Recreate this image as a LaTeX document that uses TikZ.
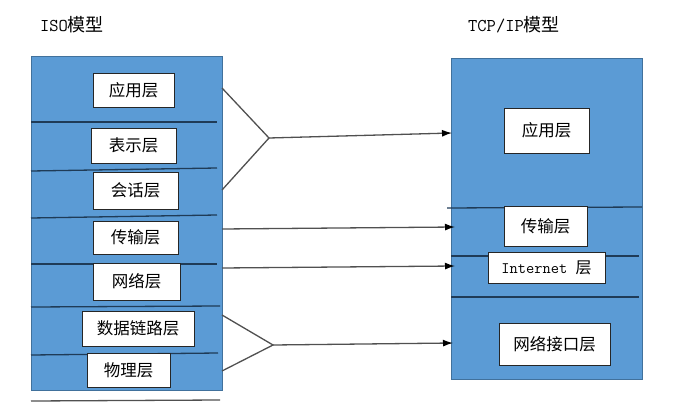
\documentclass[tikz,border=0pt]{standalone}
\usepackage{fontspec}
\newfontfamily\cjk{Noto Sans CJK SC}
\usetikzlibrary{arrows.meta}
\definecolor{layerblue}{HTML}{5B9BD5}
\definecolor{layeredge}{HTML}{41719C}
\definecolor{sepline}{HTML}{1F3B57}
\definecolor{linkgray}{HTML}{505050}
\tikzset{
    model/.style={draw=layeredge, fill=layerblue, line width=1pt, inner sep=0pt},
    layer/.style={draw=black!85, fill=white, line width=1pt, inner sep=0pt, font=\cjk\fontsize{16.5}{16.5}\selectfont},
    sep/.style={draw=sepline, line width=1.3pt},
    link/.style={draw=linkgray, line width=1.3pt},
    title/.style={font=\fontsize{18}{18}\selectfont}
}
\begin{document}
\begin{tikzpicture}[x=1pt,y=-1pt]
        \useasboundingbox (0,0) rectangle (677,412);

        \node[title] (isotitle) at (72,25) {\ttfamily ISO\cjk 模型};
        \node[title] (tcptitle) at (514,25) {\ttfamily TCP/IP\cjk 模型};

        \node[model, minimum width=191pt, minimum height=333pt] (iso) at (126.5,223.5) {};
        \node[model, minimum width=191pt, minimum height=320pt] (tcp) at (546.5,219) {};

        \draw[sep] (31,122) -- (217,122);
        \draw[sep] (31,171) -- (217,168);
        \draw[sep] (31,218) -- (217,215);
        \draw[sep] (31,264) -- (217,264);
        \draw[sep] (31,307) -- (220,306);
        \draw[sep] (31,355) -- (218,353);

        \draw[sep] (447,208) -- (642,207);
        \draw[sep] (451,256) -- (639,256);
        \draw[sep] (451,297) -- (639,297);

        \draw[link] (31,401) -- (220,400);

        \node[layer, minimum width=81pt, minimum height=34pt] (isoapp) at (133.5,90) {应用层};
        \node[layer, minimum width=85pt, minimum height=35pt] (isopres) at (133.5,145.5) {表示层};
        \node[layer, minimum width=85pt, minimum height=37pt] (isosess) at (135.5,190.5) {会话层};
        \node[layer, minimum width=85pt, minimum height=33pt] (isotrans) at (135.5,237.5) {传输层};
        \node[layer, minimum width=87pt, minimum height=37pt] (isonet) at (136.5,281.5) {网络层};
        \node[layer, minimum width=112pt, minimum height=35pt] (isolink) at (138,328.5) {数据链路层};
        \node[layer, minimum width=83pt, minimum height=34pt] (isophys) at (128.5,370) {物理层};

        \node[layer, minimum width=85pt, minimum height=45pt] (tcpapp) at (546.5,130.5) {应用层};
        \node[layer, minimum width=83pt, minimum height=40pt] (tcptrans) at (545.5,226) {传输层};
        \node[layer, minimum width=117pt, minimum height=31pt, font=\fontsize{16}{16}\selectfont] (tcpinet) at (546.5,267.5) {\ttfamily Internet \cjk 层};
        \node[layer, minimum width=111pt, minimum height=42pt] (tcphost) at (554.5,344) {网络接口层};

        \coordinate (up1) at (222,88);
        \coordinate (up2) at (222,190);
        \coordinate (upfork) at (269,138);
        \coordinate (upend) at (452,133);
        \coordinate (trans1) at (222,229);
        \coordinate (trans2) at (455,227);
        \coordinate (net1) at (222,268);
        \coordinate (net2) at (455,266);
        \coordinate (low1) at (222,315);
        \coordinate (low2) at (222,371);
        \coordinate (lowfork) at (273,345);
        \coordinate (lowend) at (453,343);

        \draw[link] (up1) -- (upfork) -- (up2);
        \draw[link, -{Latex[length=10pt, width=7pt, color=black]}] (upfork) -- (upend);
        \draw[link, -{Latex[length=10pt, width=7pt, color=black]}] (trans1) -- (trans2);
        \draw[link, -{Latex[length=10pt, width=7pt, color=black]}] (net1) -- (net2);
        \draw[link] (low1) -- (lowfork) -- (low2);
        \draw[link, -{Latex[length=10pt, width=7pt, color=black]}] (lowfork) -- (lowend);
    \end{tikzpicture}
\end{document}
